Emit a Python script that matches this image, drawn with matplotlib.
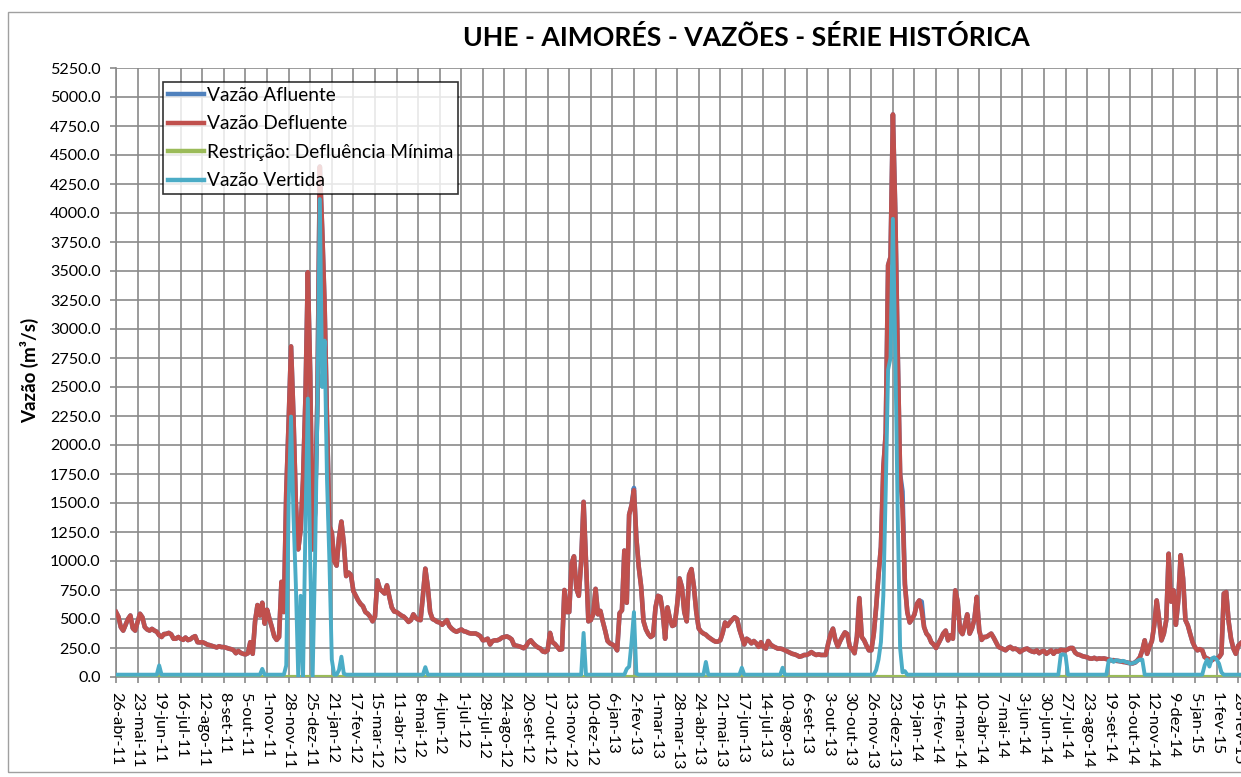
import matplotlib
matplotlib.use('Agg')
import matplotlib.pyplot as plt
import matplotlib.patches as mpatches
import numpy as np
import pandas as pd

plt.rcParams['font.family'] = ['Lato', 'DejaVu Sans']

# serie diaria amostrada a cada 3 dias a partir de 26-abr-11 (m3/s)
inicio = '2011-04-26'
passo_dias = 3

# uma linha = um intervalo de 27 dias do eixo (9 amostras)
vazao_defluente = [
    560, 520, 430, 400, 450, 500, 530, 420, 400,
    475, 545, 515, 430, 410, 400, 415, 400, 390,
    360, 345, 370, 372, 380, 368, 330, 330, 345,
    330, 320, 340, 318, 325, 342, 352, 300, 298,
    300, 292, 280, 275, 268, 262, 255, 265, 258,
    258, 252, 245, 240, 232, 205, 225, 208, 200,
    195, 205, 300, 200, 480, 620, 530, 640, 460,
    580, 500, 430, 350, 320, 345, 820, 560, 1590,
    2200, 2850, 2250, 1500, 1100, 1270, 1700, 2400, 3490,
    2600, 1100, 1420, 2400, 4400, 3850, 3200, 2200, 1300,
    1245, 1000, 960, 1200, 1340, 1150, 870, 900, 880,
    740, 700, 660, 630, 610, 560, 545, 520, 480,
    520, 833, 760, 740, 720, 790, 690, 600, 565,
    560, 545, 530, 520, 500, 475, 490, 540, 510,
    495, 490, 700, 934, 780, 560, 500, 490, 475,
    470, 450, 470, 490, 440, 417, 400, 390, 400,
    410, 395, 390, 380, 375, 375, 375, 365, 350,
    316, 320, 330, 280, 310, 316, 316, 325, 340,
    345, 350, 340, 325, 275, 270, 265, 258, 248,
    265, 300, 316, 290, 270, 255, 245, 220, 215,
    230, 380, 300, 285, 260, 235, 240, 750, 560,
    560, 980, 1040, 760, 700, 1000, 1510, 1000, 480,
    490, 540, 760, 540, 570, 480, 400, 310, 290,
    280, 265, 230, 550, 575, 1090, 640, 1400, 1480,
    1610, 1200, 950, 780, 480, 410, 370, 345, 360,
    600, 700, 690, 560, 330, 600, 500, 440, 450,
    620, 850, 776, 560, 480, 880, 930, 780, 560,
    420, 390, 375, 365, 345, 330, 316, 305, 305,
    316, 380, 470, 440, 470, 495, 515, 500, 410,
    345, 280, 330, 316, 290, 310, 290, 260, 300,
    260, 245, 310, 280, 265, 255, 245, 245, 240,
    230, 220, 210, 200, 195, 187, 175, 180, 190,
    190, 200, 215, 200, 190, 195, 190, 190, 190,
    287, 370, 417, 320, 262, 310, 350, 385, 370,
    260, 240, 205, 350, 680, 345, 316, 270, 230,
    230, 370, 600, 880, 1120, 1800, 2100, 3550, 3620,
    4850, 4000, 2800, 1750, 1450, 800, 560, 470, 500,
    540, 630, 660, 570, 430, 374, 350, 300, 280,
    250, 290, 330, 375, 400, 316, 360, 330, 747,
    650, 400, 370, 450, 540, 374, 420, 500, 690,
    400, 320, 345, 345, 360, 374, 340, 300, 260,
    250, 240, 230, 250, 260, 240, 245, 235, 215,
    230, 240, 245, 230, 220, 215, 230, 205, 220,
    225, 200, 215, 230, 200, 225, 220, 235, 230,
    230, 240, 250, 250, 210, 195, 190, 180, 175,
    170, 160, 158, 165, 155, 160, 158, 160, 155,
    150, 144, 145, 140, 138, 135, 130, 128, 122,
    120, 118, 125, 144, 170, 230, 316, 200, 260,
    310, 450, 660, 500, 316, 374, 490, 1063, 650,
    747, 450, 660, 1050, 850, 490, 445, 370, 300,
    255, 230, 240, 230, 172, 160, 150, 144, 160,
    160, 170, 200, 720, 733, 480, 330, 245, 200,
    270, 290,
]

vazao_vertida = [
    20, 20, 20, 20, 20, 20, 20, 20, 20,
    20, 20, 20, 20, 20, 20, 20, 20, 20,
    100, 20, 20, 20, 20, 20, 20, 20, 20,
    20, 20, 20, 20, 20, 20, 20, 20, 20,
    20, 20, 20, 20, 20, 20, 20, 20, 20,
    20, 20, 20, 20, 20, 20, 20, 20, 20,
    20, 20, 20, 20, 20, 20, 20, 70, 20,
    20, 20, 20, 20, 20, 20, 20, 20, 100,
    1500, 2245, 1400, 800, 0, 700, 0, 1300, 2400,
    1000, 0, 1000, 2300, 4120, 2500, 2900, 1700, 1000,
    150, 20, 20, 60, 175, 30, 20, 20, 20,
    20, 20, 20, 20, 20, 20, 20, 20, 20,
    20, 20, 20, 20, 20, 20, 20, 20, 20,
    20, 20, 20, 20, 20, 20, 20, 20, 20,
    20, 20, 20, 85, 20, 20, 20, 20, 20,
    20, 20, 20, 20, 20, 20, 20, 20, 20,
    20, 20, 20, 20, 20, 20, 20, 20, 20,
    20, 20, 20, 20, 20, 20, 20, 20, 20,
    20, 20, 20, 20, 20, 20, 20, 20, 20,
    20, 20, 20, 20, 20, 20, 20, 20, 20,
    20, 20, 20, 20, 20, 20, 20, 20, 20,
    20, 20, 20, 20, 20, 20, 380, 20, 20,
    20, 20, 20, 20, 20, 20, 20, 20, 20,
    20, 20, 20, 20, 20, 20, 70, 90, 300,
    560, 30, 20, 20, 20, 20, 20, 20, 20,
    20, 20, 20, 20, 20, 20, 20, 20, 20,
    20, 20, 20, 20, 20, 20, 20, 20, 20,
    20, 20, 20, 130, 20, 20, 20, 20, 20,
    20, 20, 20, 20, 20, 20, 20, 20, 20,
    80, 20, 20, 20, 20, 20, 20, 20, 20,
    20, 20, 20, 20, 20, 20, 20, 20, 80,
    20, 20, 20, 20, 20, 20, 20, 20, 20,
    20, 20, 20, 20, 20, 20, 20, 20, 20,
    20, 20, 20, 20, 20, 20, 20, 20, 20,
    20, 20, 20, 20, 20, 20, 20, 20, 20,
    20, 20, 60, 150, 300, 700, 1600, 2650, 2750,
    3950, 2800, 1400, 250, 40, 50, 20, 20, 20,
    20, 20, 20, 20, 20, 20, 20, 20, 20,
    20, 20, 20, 20, 20, 20, 20, 20, 20,
    20, 20, 20, 20, 20, 20, 20, 20, 20,
    20, 20, 20, 20, 20, 20, 20, 20, 20,
    20, 20, 20, 20, 20, 20, 20, 20, 20,
    20, 20, 20, 20, 20, 20, 20, 20, 20,
    20, 20, 20, 20, 20, 20, 20, 190, 195,
    185, 20, 20, 20, 20, 20, 20, 20, 20,
    20, 20, 20, 20, 20, 20, 20, 20, 20,
    140, 150, 130, 145, 140, 135, 140, 130, 125,
    115, 120, 125, 140, 150, 150, 20, 20, 20,
    20, 20, 20, 20, 20, 20, 20, 20, 20,
    20, 20, 20, 20, 20, 20, 20, 20, 20,
    20, 20, 20, 20, 100, 150, 90, 160, 170,
    150, 115, 40, 20, 20, 20, 20, 20, 20,
    20, 20,
]

# afluente coincide com a defluente, exceto nestes dias
datas_afluente_dif = ['2013-02-02', '2014-01-04', '2014-01-28']
valores_afluente_dif = [1630, 1600, 650]

restricao_minima = [0.0, 0.0]
datas_restricao = ['2011-04-26', '2015-03-04']

rotulos_x = ['26-abr-11', '23-mai-11', '19-jun-11', '16-jul-11', '12-ago-11', '8-set-11',
             '5-out-11', '1-nov-11', '28-nov-11', '25-dez-11', '21-jan-12', '17-fev-12',
             '15-mar-12', '11-abr-12', '8-mai-12', '4-jun-12', '1-jul-12', '28-jul-12',
             '24-ago-12', '20-set-12', '17-out-12', '13-nov-12', '10-dez-12', '6-jan-13',
             '2-fev-13', '1-mar-13', '28-mar-13', '24-abr-13', '21-mai-13', '17-jun-13',
             '14-jul-13', '10-ago-13', '6-set-13', '3-out-13', '30-out-13', '26-nov-13',
             '23-dez-13', '19-jan-14', '15-fev-14', '14-mar-14', '10-abr-14', '7-mai-14',
             '3-jun-14', '30-jun-14', '27-jul-14', '23-ago-14', '19-set-14', '16-out-14',
             '12-nov-14', '9-dez-14', '5-jan-15', '1-fev-15', '28-fev-15']

datas = pd.date_range(inicio, periods=len(vazao_defluente), freq=f'{passo_dias}D')
defl = pd.Series(vazao_defluente, index=datas, dtype=float)
afl = defl.copy()
for d, v in zip(datas_afluente_dif, valores_afluente_dif):
    afl[pd.Timestamp(d)] = v
vert = pd.Series(vazao_vertida, index=datas, dtype=float)

W, H = 1241, 777
fig = plt.figure(figsize=(W / 100, H / 100), dpi=100)
ax = fig.add_axes([116 / W, 100 / H, (W - 116) / W, 609 / H])

cinza = '#8a8a8a'
ax.plot(afl.index, afl.values, color='#4F81BD', lw=3.3, label='Vazão Afluente', zorder=2)
ax.plot(defl.index, defl.values, color='#C0504D', lw=3.3, label='Vazão Defluente', zorder=3)
ax.plot(pd.to_datetime(datas_restricao), restricao_minima, color='#9BBB59', lw=3.0,
        label='Restrição: Defluência Mínima', zorder=4)
ax.plot(vert.index, vert.values, color='#4BACC6', lw=2.8, label='Vazão Vertida', zorder=5)

t0 = pd.Timestamp(inicio)
ax.set_xlim(t0, t0 + pd.Timedelta(days=1407.5))
ax.set_ylim(0, 5250)

ticks_x = pd.date_range(inicio, periods=len(rotulos_x), freq='27D')
ax.set_xticks(ticks_x)
ax.set_xticklabels(rotulos_x, rotation=-90, fontsize=11.8)
ax.set_yticks(np.arange(0, 5251, 250))
ax.set_yticklabels([f'{v:.1f}' for v in np.arange(0, 5251, 250)], fontsize=11.6)
ax.tick_params(axis='both', length=4, color=cinza, width=1.2, pad=7)

ax.grid(True, color=cinza, lw=1.2)
ax.set_axisbelow(True)
for s in ['top', 'right']:
    ax.spines[s].set_visible(False)
for s in ['left', 'bottom']:
    ax.spines[s].set_color(cinza)
    ax.spines[s].set_linewidth(1.2)

leg = ax.legend(loc='upper left', bbox_to_anchor=((163 - 116) / (W - 116), (677 - 82) / 609),
                borderaxespad=0, fontsize=13.8, frameon=True, fancybox=False,
                handlelength=1.9, handletextpad=0.15, labelspacing=0.6, borderpad=0.25)
leg.get_frame().set_edgecolor('black')
leg.get_frame().set_linewidth(1.2)
for ln in leg.get_lines():
    ln.set_linewidth(3.2)

fig.text(746 / W, 1 - 46 / H, 'UHE - AIMORÉS - VAZÕES - SÉRIE HISTÓRICA', ha='center',
         va='baseline', fontsize=19.2, fontweight='bold')
fig.text(30 / W, 1 - 370 / H, 'Vazão (m³/s)', rotation=90, ha='center', va='center',
         fontsize=13.5, fontweight='bold')

# borda da area do grafico
fig.patches.append(mpatches.Rectangle((8 / W, 1 - 772 / H), 1.1, (772 - 12) / H,
                                      transform=fig.transFigure, fill=False,
                                      edgecolor='#a0a0a0', lw=1.0))

fig.savefig('out.png', dpi=100)
